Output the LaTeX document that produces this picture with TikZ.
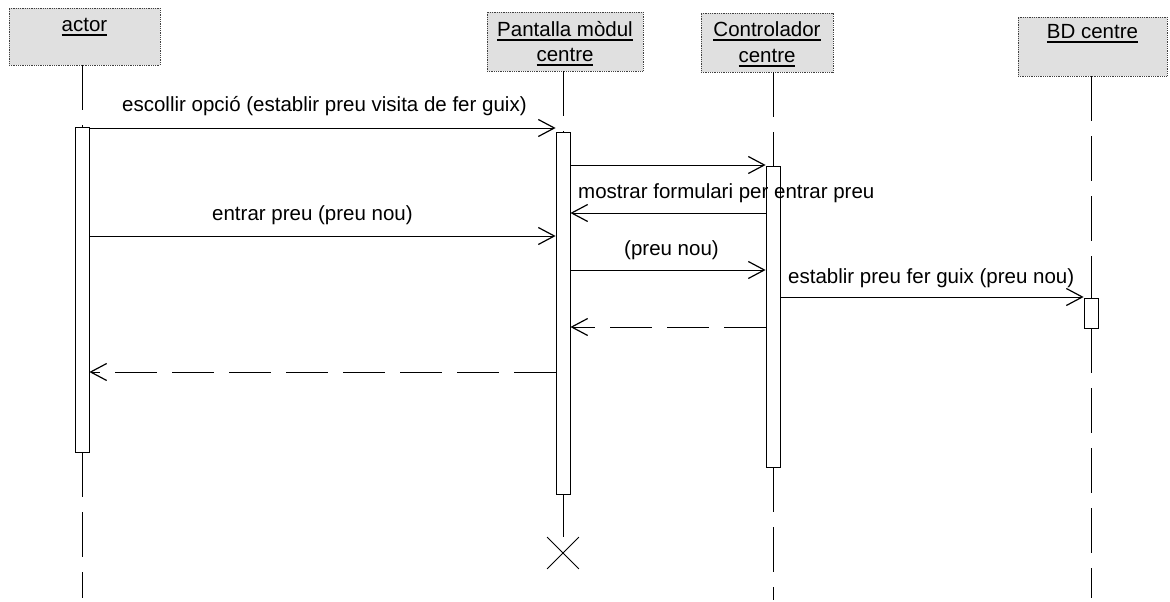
\documentclass[tikz,border=0pt]{standalone}
\usepackage{fontspec}
\setmainfont{Liberation Sans}
\usetikzlibrary{arrows.meta,shapes.misc}
\newcommand{\hdul}[1]{\vtop{\hbox{#1}\kern1.8pt\hrule height 1.6pt}}
\begin{document}
\begin{tikzpicture}[x=1pt,y=-1pt,
  every node/.style={font=\fontsize{20.5}{25}\selectfont},
  head/.style={draw=black!75, densely dotted, line width=0.8pt, fill=black!12, inner sep=0pt},
  htext/.style={anchor=base, inner sep=0pt},
  act/.style={draw, fill=white, line width=0.8pt, minimum width=14pt, inner sep=0pt},
  life/.style={line width=0.9pt, dash pattern=on 45pt off 15pt},
  msg/.style={line width=0.8pt, -{Straight Barb[length=16pt,width=17pt,line width=1.2pt]}},
  ret/.style={msg, dash pattern=on 42pt off 15pt},
  lbl/.style={anchor=base west, inner sep=0pt}]
\useasboundingbox (0,0) rectangle (1170,602);
\fill[white] (0,0) rectangle (1170,602);

% headers
\node[head, minimum width=151pt, minimum height=57pt] (hA) at (84.5,36.5) {};
\node[htext] (tA) at (84.5,32) {\hdul{actor}};
\node[head, minimum width=156pt, minimum height=59pt] (hP) at (565,41.5) {};
\node[htext] (tP1) at (565,37) {\hdul{Pantalla mòdul}};
\node[htext] (tP2) at (565,62) {\hdul{centre}};
\node[head, minimum width=132pt, minimum height=59pt] (hC) at (767,42.5) {};
\node[htext] (tC1) at (767,37) {\hdul{Controlador}};
\node[htext] (tC2) at (767,63) {\hdul{centre}};
\node[head, minimum width=149pt, minimum height=59pt] (hB) at (1092.5,46.5) {};
\node[htext] (tB) at (1092.5,39) {\hdul{BD centre}};

% activations
\node[act, minimum height=325pt] (aA) at (82,289.5) {};
\node[act, minimum height=362pt] (aP) at (563,313) {};
\node[act, minimum height=301pt] (aC) at (773,316.5) {};
\node[act, minimum height=30pt] (aB) at (1091,313) {};
\node[cross out, draw, line width=0.8pt, minimum size=31pt, inner sep=0pt] (xP) at (563,553) {};

\coordinate (eA) at (82,598);
\coordinate (eC) at (773,600);
\coordinate (eB) at (1091,598);

% lifelines
\draw[life] (aA.north |- hA.south) -- (aA.north);
\draw[life] (aA.south) -- (eA);
\draw[life] (aP.north |- hP.south) -- (aP.north);
\draw[line width=0.9pt] (aP.south) -- (xP.north);
\draw[life] (aC.north |- hC.south) -- (aC.north);
\draw[life] (aC.south) -- (eC);
\draw[life] (aB.north |- hB.south) -- (aB.north);
\draw[life] (aB.south) -- (eB);

% messages
\draw[msg] (aA.east |- 0,128) -- (aP.west |- 0,128);
\node[lbl] (l1) at (122,111) {escollir opció (establir preu visita de fer guix)};
\draw[msg] (aP.east |- 0,165) -- (aC.west |- 0,165);
\draw[msg] (aC.west |- 0,213) -- (aP.east |- 0,213);
\node[lbl] (l2) at (578,198) {mostrar formulari per entrar preu};
\draw[msg] (aA.east |- 0,236) -- (aP.west |- 0,236);
\node[lbl] (l3) at (212,220) {entrar preu (preu nou)};
\draw[msg] (aP.east |- 0,270) -- (aC.west |- 0,270);
\node[lbl] (l4) at (624,255) {(preu nou)};
\draw[msg] (aC.east |- 0,297) -- (aB.west |- 0,297);
\node[lbl] (l5) at (788,283) {establir preu fer guix (preu nou)};
\draw[ret] (aC.west |- 0,327) -- (aP.east |- 0,327);
\draw[ret] (aP.west |- 0,372) -- (aA.east |- 0,372);
\end{tikzpicture}
\end{document}
